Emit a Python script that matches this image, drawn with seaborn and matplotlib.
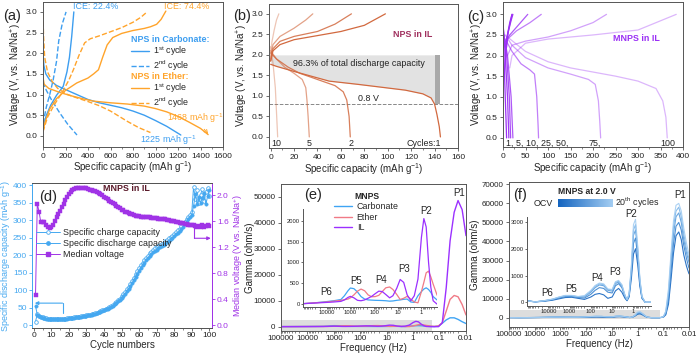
import numpy as np
import pandas as pd
import matplotlib
matplotlib.use("Agg")
import matplotlib.pyplot as plt
import seaborn as sns
from matplotlib.lines import Line2D
from matplotlib.ticker import MultipleLocator, FormatStrFormatter
from matplotlib.colors import LinearSegmentedColormap

# ---------------- data: panel (a) ----------------
A_CARB1_DIS_CAP = [0, 8, 25, 60, 120, 200, 300, 400, 500, 600, 700, 800, 900, 1000, 1100, 1225]
A_CARB1_DIS_V = [2.05, 1.7, 1.5, 1.35, 1.22, 1.12, 1.0, 0.88, 0.8, 0.74, 0.68, 0.6, 0.5, 0.37, 0.23, 0.02]
A_CARB1_CHG_CAP = [0, 30, 70, 120, 180, 213, 235, 255, 274]
A_CARB1_CHG_V = [0.22, 0.5, 0.75, 0.98, 1.2, 1.55, 1.9, 2.4, 3.0]
A_CARB2_DIS_CAP = [0, 30, 80, 150, 220, 302]
A_CARB2_DIS_V = [1.3, 1.1, 0.85, 0.55, 0.28, 0.02]
A_CARB2_CHG_CAP = [0, 30, 60, 90, 120, 140, 170, 205]
A_CARB2_CHG_V = [0.3, 0.7, 1.0, 1.35, 1.8, 2.3, 2.7, 3.0]
A_ETH1_DIS_CAP = [0, 10, 50, 150, 250, 350, 450, 600, 750, 900, 1000, 1100, 1200, 1300, 1400, 1468]
A_ETH1_DIS_V = [1.42, 1.25, 1.15, 1.05, 0.97, 0.9, 0.84, 0.8, 0.77, 0.72, 0.66, 0.58, 0.47, 0.33, 0.18, 0.03]
A_ETH1_CHG_CAP = [0, 20, 60, 120, 200, 300, 400, 450, 493, 530, 570, 620, 700, 800, 900, 955, 1010, 1050, 1092]
A_ETH1_CHG_V = [0.1, 0.35, 0.65, 0.9, 1.1, 1.28, 1.4, 1.5, 1.6, 1.9, 2.2, 2.38, 2.48, 2.55, 2.6, 2.64, 2.7, 2.82, 3.02]
A_ETH2_DIS_CAP = [0, 5, 15, 40, 80, 130, 200, 300, 400, 500, 600, 660, 750, 850, 955]
A_ETH2_DIS_V = [2.95, 2.4, 1.9, 1.55, 1.32, 1.15, 1.02, 0.92, 0.83, 0.73, 0.6, 0.5, 0.35, 0.2, 0.08]
A_ETH2_CHG_CAP = [0, 40, 100, 170, 230, 270, 320, 370, 420, 500, 600, 700, 800, 870, 925]
A_ETH2_CHG_V = [0.1, 0.45, 0.75, 1.05, 1.35, 1.6, 1.95, 2.25, 2.35, 2.42, 2.52, 2.62, 2.75, 2.87, 3.0]

# ---------------- data: panel (b) ----------------
B_CYCLES = [1, 2, 5, 10]
B_DIS_CAP = {
    1: [0, 5, 22, 50, 75, 95, 115, 130, 137, 140, 142, 144, 145],
    2: [0, 5, 15, 25, 35, 45, 55, 62, 65, 67, 68],
    5: [0, 5, 12, 20, 27, 30, 31, 32, 33],
    10: [0, 2, 4, 5, 6],
}
B_DIS_V = {
    1: [1.77, 1.72, 1.58, 1.36, 1.28, 1.21, 1.14, 1.05, 0.95, 0.8, 0.55, 0.25, 0.0],
    2: [2.05, 1.9, 1.7, 1.55, 1.45, 1.35, 1.25, 1.1, 0.9, 0.5, 0.0],
    5: [2.1, 1.9, 1.7, 1.55, 1.4, 1.2, 0.9, 0.5, 0.0],
    10: [2.2, 1.8, 1.2, 0.6, 0.0],
}
B_CHG_CAP = {
    1: [0, 2, 8, 20, 40, 60, 80, 98],
    2: [0, 2, 8, 20, 40, 55, 69],
    5: [0, 2, 8, 20, 30, 36],
    10: [0, 1, 3, 5, 7],
}
B_CHG_V = {
    1: [1.85, 2.1, 2.25, 2.37, 2.47, 2.57, 2.72, 3.0],
    2: [1.85, 2.15, 2.33, 2.45, 2.57, 2.75, 3.0],
    5: [1.9, 2.25, 2.45, 2.65, 2.85, 3.0],
    10: [1.95, 2.3, 2.6, 2.85, 3.0],
}
B_CUTOFF_V = 0.8
B_SHADE_TOP_V = 2.0
B_CAP_AT_CUTOFF = 140
B_CAP_TOTAL = 145

# ---------------- data: panel (c) ----------------
C_CYCLES = [1, 5, 10, 25, 50, 75, 100]
C_DIS_CAP = {
    1: [0, 2, 5, 8], 5: [0, 5, 10, 13], 10: [0, 8, 14, 17], 25: [2, 10, 18, 22],
    50: [5, 20, 40, 60, 70, 75, 78, 79],
    75: [5, 20, 50, 100, 150, 190, 205, 212, 215, 217],
    100: [10, 50, 100, 150, 200, 250, 300, 340, 355, 362, 365],
}
C_DIS_V = {
    1: [2.9, 2.0, 1.0, 0.0], 5: [2.8, 2.0, 1.0, 0.0], 10: [2.7, 2.0, 1.0, 0.0], 25: [2.5, 2.0, 1.0, 0.0],
    50: [2.4, 2.1, 1.8, 1.65, 1.55, 1.0, 0.3, 0.0],
    75: [2.5, 2.25, 1.95, 1.7, 1.55, 1.42, 1.3, 0.9, 0.4, 0.0],
    100: [2.45, 2.1, 1.85, 1.7, 1.6, 1.5, 1.38, 1.2, 0.9, 0.5, 0.0],
}
C_CHG_CAP = {
    1: [3, 8, 15, 20], 5: [5, 10, 18, 22], 10: [8, 12, 20], 25: [3, 15, 35, 55],
    50: [5, 10, 30, 60, 85],
    75: [10, 20, 50, 100, 150, 200, 230],
    100: [15, 20, 50, 100, 200, 300, 385],
}
C_CHG_V = {
    1: [1.5, 2.4, 2.8, 3.0], 5: [2.0, 2.5, 2.85, 3.0], 10: [2.2, 2.6, 3.0], 25: [2.3, 2.5, 2.75, 3.0],
    50: [2.2, 2.4, 2.6, 2.8, 3.0],
    75: [2.0, 2.25, 2.35, 2.45, 2.6, 2.8, 3.0],
    100: [1.7, 2.0, 2.3, 2.4, 2.5, 2.62, 3.0],
}

# ---------------- data: panel (d) ----------------
D_CYCLES = list(range(1, 101))
D_CHARGE = [10, 32, 27, 24, 22, 21, 20, 19, 19, 18,
            18, 18, 18, 18, 18, 19, 19, 19, 20, 20,
            21, 21, 22, 23, 23, 24, 25, 26, 27, 28,
            29, 30, 31, 33, 34, 36, 38, 40, 42, 44,
            46, 49, 52, 55, 58, 62, 66, 71, 76, 82,
            88, 95, 102, 110, 118, 127, 136, 145, 154, 163,
            171, 179, 186, 193, 199, 205, 210, 215, 219, 223,
            226, 229, 232, 236, 240, 244, 248, 252, 256, 261,
            266, 271, 276, 282, 288, 295, 302, 309, 316, 324,
            395, 360, 385, 350, 372, 390, 355, 380, 392, 370]
D_DISCHARGE = [55, 30, 26, 23, 21, 20, 19, 18, 18, 18,
               17, 17, 17, 17, 18, 18, 18, 19, 19, 20,
               20, 21, 21, 22, 23, 23, 24, 25, 26, 27,
               28, 29, 30, 32, 33, 35, 37, 39, 41, 43,
               45, 47, 50, 53, 56, 60, 64, 68, 73, 78,
               84, 90, 97, 104, 112, 120, 129, 138, 147, 156,
               164, 172, 179, 186, 192, 198, 203, 208, 212, 216,
               219, 222, 225, 229, 233, 237, 241, 245, 249, 254,
               259, 264, 269, 275, 281, 288, 295, 302, 309, 316,
               340, 375, 345, 365, 350, 362, 378, 345, 368, 385]
D_MEDIAN_V = [0.47, 1.87, 1.75, 1.59, 1.59, 1.59, 1.55, 1.51, 1.50, 1.52,
              1.55, 1.60, 1.66, 1.72, 1.76, 1.82, 1.87, 1.93, 1.98, 2.02,
              2.05, 2.08, 2.10, 2.11, 2.12, 2.12, 2.12, 2.12, 2.11, 2.11,
              2.10, 2.09, 2.08, 2.07, 2.06, 2.05, 2.03, 2.02, 2.00, 1.98,
              1.96, 1.94, 1.92, 1.90, 1.88, 1.86, 1.84, 1.82, 1.80, 1.78,
              1.77, 1.75, 1.74, 1.73, 1.72, 1.71, 1.70, 1.69, 1.68, 1.68,
              1.67, 1.67, 1.66, 1.66, 1.66, 1.66, 1.65, 1.65, 1.65, 1.65,
              1.64, 1.64, 1.64, 1.63, 1.63, 1.62, 1.62, 1.61, 1.60, 1.60,
              1.59, 1.59, 1.58, 1.58, 1.57, 1.56, 1.56, 1.55, 1.55, 1.54,
              1.54, 1.53, 1.52, 1.53, 1.52, 1.54, 1.52, 1.53, 1.54, 1.53]

# ---------------- data: panel (e) ----------------
E_FREQ = [100000, 31600, 10000, 5000, 2500, 1780, 1260, 1000, 710, 500,
          355, 250, 178, 126, 89, 63, 45, 32, 22, 16,
          11, 7.9, 5.6, 4.0, 2.8, 2.0, 1.4, 1.0, 0.79, 0.63,
          0.5, 0.4, 0.32, 0.22, 0.16, 0.11, 0.079, 0.056, 0.04, 0.028,
          0.02, 0.014, 0.01]
E_CARBONATE = [10, 30, 60, 80, 110, 200, 320, 385, 370, 290,
               180, 120, 100, 95, 90, 88, 85, 80, 70, 75,
               90, 100, 115, 120, 50, 40, 200, 300, 360, 390,
               350, 280, 180, 100, 40, 200, 1300, 2600, 3400, 3400,
               2800, 1900, 1200]
E_ETHER = [10, 30, 50, 70, 90, 105, 120, 150, 220, 310,
           360, 320, 220, 175, 180, 210, 300, 390, 410, 350,
           230, 110, 140, 185, 120, 50, 30, 300, 520, 750,
           790, 650, 480, 220, 100, 300, 1500, 6000, 10500, 12000,
           11500, 8500, 4500]
E_IL = [10, 25, 40, 50, 65, 100, 160, 185, 150, 90,
        80, 100, 140, 185, 250, 310, 300, 230, 150, 200,
        380, 590, 520, 220, 80, 200, 600, 1600, 2050, 1850,
        1000, 400, 80, 0, 0, 0, 1500, 15000, 33000, 44000,
        48500, 45000, 35000]
E_SERIES = ['Carbonate', 'Ether', 'IL']
E_ZOOM_X = (100000, 0.2)
E_ZOOM_Y = (-1700, 2500)

# ---------------- data: panel (f) ----------------
F_FREQ = [100000, 40000, 16000, 6300, 3200, 1600, 800, 400, 200, 100,
          63, 40, 25, 16, 10, 7, 5, 3.5, 2.5, 2.0,
          1.6, 1.25, 1.0, 0.8, 0.63, 0.5, 0.4, 0.28, 0.2, 0.14,
          0.1, 0.08, 0.063, 0.05, 0.04, 0.032, 0.025, 0.02, 0.016, 0.0125,
          0.01]
F_LABELS = ['OCV', '5', '10', '15', '20']
F_GAMMA = {
    'OCV': [60, 20, 40, 80, 130, 180, 190, 150, 110, 200, 300, 330, 280, 150, 200, 430, 520, 380, 150, 60,
            200, 900, 1800, 2000, 1400, 600, 150, 0, 0, 0, 200, 1500, 7000, 20000, 34000, 43000, 45000, 41000,
            33000, 27000, 23000],
    '5': [50, 20, 50, 100, 160, 210, 220, 180, 160, 300, 450, 550, 520, 380, 350, 620, 700, 550, 220, 80,
          250, 1100, 2200, 2400, 1700, 700, 180, 0, 0, 0, 250, 2000, 9000, 24000, 39000, 48000, 50000, 46000,
          38000, 31000, 26000],
    '10': [50, 20, 60, 110, 180, 240, 240, 200, 200, 380, 550, 650, 620, 450, 420, 700, 760, 600, 240, 90,
           280, 1200, 2500, 2700, 1900, 800, 200, 0, 0, 0, 300, 2500, 11000, 28000, 44000, 53000, 55000, 50000,
           41000, 34000, 29000],
    '15': [50, 20, 60, 120, 190, 250, 250, 210, 230, 420, 600, 690, 660, 480, 460, 740, 790, 640, 260, 100,
           300, 1300, 2700, 2900, 2000, 850, 210, 0, 0, 0, 350, 3000, 13000, 31000, 48000, 56000, 58000, 53000,
           44000, 36000, 31000],
    '20': [50, 20, 60, 120, 200, 260, 260, 220, 250, 450, 630, 720, 690, 500, 480, 770, 820, 660, 270, 100,
           320, 1400, 2900, 3100, 2100, 900, 220, 0, 0, 0, 400, 3500, 15000, 34000, 51000, 59000, 60000, 56000,
           47000, 39000, 33000],
}
F_ZOOM_X = (100000, 0.13)
F_ZOOM_Y = (-500, 3800)

LOG_TICKS = [100000, 10000, 1000, 100, 10, 1, 0.1, 0.01]
LOG_TICK_LABELS = ['100000', '10000', '1000', '100', '10', '1', '0.1', '0.01']
INSET_TICKS = [10000, 1000, 100, 10, 1]
INSET_TICK_LABELS = ['10000', '1000', '100', '10', '1']

# ---------------- styling ----------------
sns.set_style('ticks')
plt.rcParams['font.family'] = ['Liberation Sans', 'DejaVu Sans']
plt.rcParams['mathtext.default'] = 'regular'
plt.rcParams['axes.linewidth'] = 0.7

BLUE = '#3d9ef0'
ORANGE = '#ffa42b'
BROWN = '#d2693f'
PURPLE = '#9b30f5'
D_BLUE = '#45a8f0'
D_PURPLE = '#a033e6'
E_COLORS = {'Carbonate': '#3fa4f4', 'Ether': '#f07a86', 'IL': '#9b30ff'}
F_COLORS = ['#1565c0', '#3a84d0', '#5a9ddc', '#7db5e8', '#a3cdf2']
SPINE = '#555555'
TICK_FS = 6.0
LAB_FS = 7.0
TXT_FS = 6.4

fig = plt.figure(figsize=(6.96, 3.54), dpi=100)


def rect(l, t, r, b):
    return [l / 696, 1 - b / 354, (r - l) / 696, (b - t) / 354]


def fxy(px, py):
    return px / 696, 1 - py / 354


def style(ax, fs=TICK_FS):
    for s in ax.spines.values():
        s.set_color(SPINE)
        s.set_linewidth(0.7)
    ax.tick_params(axis='both', which='major', labelsize=fs, length=2.5, width=0.6, pad=1.5,
                   color=SPINE, labelcolor='#222222', direction='out')
    ax.tick_params(axis='both', which='minor', length=1.5, width=0.5, color=SPINE)


def line(ax, x, y, color, ls='-', lw=1.0, alpha=1.0, **kw):
    sns.lineplot(x=list(x), y=list(y), ax=ax, sort=False, estimator=None, color=color, linestyle=ls,
                 linewidth=lw, alpha=alpha, **kw)


def labels(ax, xl, yl, xy_coord, yy_coord, fs=LAB_FS, ycolor='#222222'):
    ax.set_xlabel(xl, fontsize=fs)
    ax.set_ylabel(yl, fontsize=fs, color=ycolor)
    ax.xaxis.set_label_coords(0.5, xy_coord)
    ax.yaxis.set_label_coords(yy_coord, 0.5)


# ================= (a) =================
axA = fig.add_axes(rect(43, 2, 223, 147))
line(axA, A_CARB1_DIS_CAP, A_CARB1_DIS_V, BLUE)
line(axA, A_CARB1_CHG_CAP, A_CARB1_CHG_V, BLUE)
line(axA, A_CARB2_DIS_CAP, A_CARB2_DIS_V, BLUE, '--')
line(axA, A_CARB2_CHG_CAP, A_CARB2_CHG_V, BLUE, '--')
line(axA, A_ETH1_DIS_CAP, A_ETH1_DIS_V, ORANGE)
line(axA, A_ETH1_CHG_CAP, A_ETH1_CHG_V, ORANGE)
line(axA, A_ETH2_DIS_CAP, A_ETH2_DIS_V, ORANGE, '--')
line(axA, A_ETH2_CHG_CAP, A_ETH2_CHG_V, ORANGE, '--')
axA.set_xlim(0, 1600)
axA.set_ylim(-0.27, 3.24)
axA.xaxis.set_major_locator(MultipleLocator(200))
axA.xaxis.set_minor_locator(MultipleLocator(100))
axA.yaxis.set_major_locator(MultipleLocator(0.5))
axA.yaxis.set_major_formatter(FormatStrFormatter('%.1f'))
style(axA)
labels(axA, 'Specific capacity (mAh g$^{-1}$)', 'Voltage (V, vs. Na/Na$^{+}$)', -0.085, -0.105)
axA.text(465, 3.14, 'ICE: 22.4%', color=BLUE, fontsize=TXT_FS, ha='center', va='center')
axA.text(1280, 3.14, 'ICE: 74.4%', color=ORANGE, fontsize=TXT_FS, ha='center', va='center')
axA.text(1116, -0.1, '1225 mAh g$^{-1}$', color=BLUE, fontsize=TXT_FS, ha='center', va='center')
axA.annotate('1468 mAh g$^{-1}$', xy=(1468, 0.04), xytext=(1354, 0.43), color=ORANGE, fontsize=TXT_FS,
             ha='center', va='center',
             arrowprops=dict(arrowstyle='->', color=ORANGE, lw=0.7, shrinkA=1, shrinkB=0))
legs = []
for title, col, ytop in [('NPS in Carbonate:', BLUE, 0.77), ('NPS in Ether:', ORANGE, 0.515)]:
    hs = [Line2D([], [], color=col, lw=1.0, ls='-'), Line2D([], [], color=col, lw=1.0, ls='--')]
    lg = axA.legend(hs, ['1$^{st}$ cycle', '2$^{nd}$ cycle'], title=title, loc='upper left',
                    bbox_to_anchor=(0.49, ytop), frameon=False, fontsize=TXT_FS, title_fontsize=TXT_FS,
                    alignment='left', handlelength=2.0, handletextpad=0.5, borderpad=0, borderaxespad=0,
                    labelspacing=0.05)
    lg.get_title().set_color(col)
    lg.get_title().set_fontweight('bold')
    legs.append(lg)
axA.add_artist(legs[0])

# ================= (b) =================
axB = fig.add_axes(rect(269, 4, 458, 148))
c1x = np.array(B_DIS_CAP[1])
c1y = np.array(B_DIS_V[1])
m = c1x <= B_CAP_AT_CUTOFF
axB.fill_between(c1x[m], c1y[m], B_SHADE_TOP_V, color='#e2e2e2', lw=0, zorder=0)
axB.fill_between([B_CAP_AT_CUTOFF, B_CAP_TOTAL], B_CUTOFF_V, B_SHADE_TOP_V, color='#a9a9a9', lw=0, zorder=0)
axB.axhline(B_CUTOFF_V, color='#888888', ls='--', lw=0.7, zorder=1)
b_alpha = {1: 1.0, 2: 0.85, 5: 0.62, 10: 0.38}
for c in B_CYCLES:
    line(axB, B_DIS_CAP[c], B_DIS_V[c], BROWN, alpha=b_alpha[c], lw=0.9)
    line(axB, B_CHG_CAP[c], B_CHG_V[c], BROWN, alpha=b_alpha[c], lw=0.9)
axB.set_xlim(-1.4, 160)
axB.set_ylim(-0.27, 3.24)
axB.xaxis.set_major_locator(MultipleLocator(20))
axB.xaxis.set_minor_locator(MultipleLocator(10))
axB.yaxis.set_major_locator(MultipleLocator(0.5))
axB.yaxis.set_major_formatter(FormatStrFormatter('%.1f'))
style(axB)
labels(axB, 'Specific capacity (mAh g$^{-1}$)', 'Voltage (V, vs. Na/Na$^{+}$)', -0.09, -0.103)
axB.text(137.7, 2.49, 'NPS in IL', color='#a0305e', fontsize=TXT_FS, fontweight='bold', ha='right', va='center')
axB.text(75.8, 1.80, '96.3% of total discharge capacity', fontsize=TXT_FS, ha='center', va='center', color='#222')
axB.text(83.5, 0.94, '0.8 V', fontsize=TXT_FS, ha='center', va='center', color='#222')
for txt, xx in [('10', 5), ('5', 32.6), ('2', 68.3), ('Cycles:1', 130.6)]:
    axB.text(xx, -0.15, txt, fontsize=TXT_FS, ha='center', va='center', color='#222')

# ================= (c) =================
axC = fig.add_axes(rect(503, 2, 683, 147))
c_alpha = {1: 1.0, 5: 0.95, 10: 0.85, 25: 0.8, 50: 0.62, 75: 0.45, 100: 0.35}
for c in C_CYCLES:
    line(axC, C_DIS_CAP[c], C_DIS_V[c], PURPLE, alpha=c_alpha[c], lw=0.9)
    line(axC, C_CHG_CAP[c], C_CHG_V[c], PURPLE, alpha=c_alpha[c], lw=0.9)
axC.set_xlim(0, 400)
axC.set_ylim(-0.22, 3.3)
axC.xaxis.set_major_locator(MultipleLocator(50))
axC.xaxis.set_minor_locator(MultipleLocator(25))
axC.yaxis.set_major_locator(MultipleLocator(0.5))
axC.yaxis.set_major_formatter(FormatStrFormatter('%.1f'))
style(axC)
labels(axC, 'Specific capacity (mAh g$^{-1}$)', 'Voltage (V, vs. Na/Na$^{+}$)', -0.09, -0.1)
axC.text(348, 2.41, 'MNPS in IL', color=PURPLE, fontsize=TXT_FS, fontweight='bold', ha='right', va='center')
axC.text(7, -0.14, '1, 5, 10, 25, 50,', fontsize=TXT_FS, ha='left', va='center', color='#222')
axC.text(204, -0.14, '75,', fontsize=TXT_FS, ha='center', va='center', color='#222')
axC.text(367, -0.14, '100', fontsize=TXT_FS, ha='center', va='center', color='#222')

# ================= (d) =================
axD = fig.add_axes(rect(32, 183, 212, 328))
axD2 = axD.twinx()
line(axD, D_CYCLES, D_CHARGE, D_BLUE, lw=0.7, marker='o', markersize=2.6, markerfacecolor='white',
     markeredgecolor=D_BLUE, markeredgewidth=0.6)
line(axD, D_CYCLES, D_DISCHARGE, D_BLUE, lw=0.7, marker='o', markersize=2.4, markerfacecolor=D_BLUE,
     markeredgecolor=D_BLUE, markeredgewidth=0.4)
line(axD2, D_CYCLES, D_MEDIAN_V, D_PURPLE, lw=0.7, marker='s', markersize=2.4, markerfacecolor=D_PURPLE,
     markeredgecolor=D_PURPLE, markeredgewidth=0.3)
axD.set_xlim(-1, 101.5)
axD.set_ylim(-8, 406)
axD2.set_ylim(-0.04, 2.19)
axD.xaxis.set_major_locator(MultipleLocator(10))
axD.xaxis.set_minor_locator(MultipleLocator(5))
axD.yaxis.set_major_locator(MultipleLocator(50))
axD2.yaxis.set_major_locator(MultipleLocator(0.4))
axD2.yaxis.set_major_formatter(FormatStrFormatter('%.1f'))
style(axD)
style(axD2)
axD.tick_params(axis='x', pad=1, length=2)
axD.tick_params(axis='y', labelcolor=D_BLUE, color=D_BLUE, pad=1)
axD2.tick_params(axis='y', labelcolor=D_PURPLE, color=D_PURPLE, pad=1)
for a in (axD, axD2):
    a.spines['left'].set_color(D_BLUE)
    a.spines['right'].set_color(D_PURPLE)
labels(axD, 'Cycle numbers', 'Specific discharge capacity (mAh g$^{-1}$)', -0.085, -0.105, fs=6.5,
       ycolor=D_BLUE)
axD.xaxis.label.set_fontsize(LAB_FS)
axD2.set_ylabel('Median voltage (V vs. Na/Na$^{+}$)', fontsize=6.5, color=D_PURPLE)
axD2.yaxis.set_label_coords(1.105, 0.5)
axD.text(53, 390, 'MNPS in IL', color='#5a1a2a', fontsize=TXT_FS, fontweight='bold', ha='center', va='center')
axD.annotate('', xy=(0.6, 63), xytext=(16.4, 63),
             arrowprops=dict(arrowstyle='-|>', color=D_BLUE, lw=0.8, mutation_scale=5, shrinkA=0, shrinkB=0))
axD.plot([16.4, 16.4], [63, 35], color=D_BLUE, lw=0.8)
axD2.plot([91.5, 91.5], [1.52, 1.34], color=D_PURPLE, lw=0.8)
axD2.annotate('', xy=(100.8, 1.34), xytext=(91.5, 1.34),
              arrowprops=dict(arrowstyle='-|>', color=D_PURPLE, lw=0.8, mutation_scale=5, shrinkA=0, shrinkB=0))
hD = [Line2D([], [], color=D_BLUE, lw=0.7, marker='o', markersize=2.6, mfc='white', mec=D_BLUE, mew=0.6),
      Line2D([], [], color=D_BLUE, lw=0.7, marker='o', markersize=2.4, mfc=D_BLUE, mec=D_BLUE),
      Line2D([], [], color=D_PURPLE, lw=0.7, marker='s', markersize=2.4, mfc=D_PURPLE, mec=D_PURPLE)]
axD2.legend(hD, ['Specific charge capacity', 'Specific discharge capacity', 'Median voltage'],
            loc='upper left', bbox_to_anchor=(0.0, 0.72), frameon=False, fontsize=TXT_FS,
            handlelength=2.6, handletextpad=0.4, borderpad=0, labelspacing=0.25)

# ================= (e) =================
dfE = pd.DataFrame({'freq': E_FREQ, 'Carbonate': E_CARBONATE, 'Ether': E_ETHER, 'IL': E_IL})
axE = fig.add_axes(rect(281, 184, 466, 331))
axE.set_xscale('log')
axE.fill_between(list(E_ZOOM_X), E_ZOOM_Y[0], E_ZOOM_Y[1], color='#dddddd', lw=0, zorder=0)
for name in E_SERIES:
    line(axE, dfE['freq'], dfE[name], E_COLORS[name], lw=1.0)
axE.set_xlim(1e5, 0.01)
axE.set_ylim(-1670, 54870)
axE.set_xticks(LOG_TICKS, LOG_TICK_LABELS)
axE.yaxis.set_major_locator(MultipleLocator(10000))
style(axE, fs=5.8)
axE.tick_params(axis='x', which='major', pad=1, length=2)
labels(axE, 'Frequency (Hz)', 'Gamma (ohm/s)', -0.082, -0.143)
axE.text(0.019, 51500, 'P1', fontsize=7, ha='center', va='center')
hE = [Line2D([], [], color=E_COLORS[n], lw=1.0) for n in E_SERIES]
lgE = axE.legend(hE, E_SERIES, title='MNPS', loc='upper left',
                 bbox_to_anchor=(0.265, 0.975), frameon=False, fontsize=TXT_FS, title_fontsize=6.2,
                 handlelength=2.0, handletextpad=0.5, borderpad=0, labelspacing=0.15)
lgE.get_title().set_fontweight('bold')
lgE.set_zorder(10)

axEi = fig.add_axes(rect(303, 209, 437, 307))
axEi.set_xscale('log')
axEi.patch.set_alpha(0)
for name in E_SERIES:
    line(axEi, dfE['freq'], dfE[name], E_COLORS[name], lw=0.9)
axEi.set_xlim(1e5, 0.22)
axEi.set_ylim(-70, 2280)
axEi.set_xticks(INSET_TICKS, INSET_TICK_LABELS)
axEi.yaxis.set_major_locator(MultipleLocator(500))
axEi.set_xlabel('')
axEi.set_ylabel('')
style(axEi, fs=4.2)
axEi.tick_params(length=1.5, pad=1)
axEi.spines['top'].set_visible(False)
axEi.spines['right'].set_visible(False)
for txt, fx, gy in [('P2', 0.66, 2224), ('P3', 5.2, 840), ('P4', 48, 584), ('P5', 575, 544), ('P6', 11000, 280)]:
    axEi.text(fx, gy, txt, fontsize=7, ha='center', va='center', clip_on=False)

# ================= (f) =================
dfF = pd.DataFrame({'freq': F_FREQ, **{k: F_GAMMA[k] for k in F_LABELS}})
axF = fig.add_axes(rect(509, 182, 689, 327))
axF.set_xscale('log')
axF.fill_between(list(F_ZOOM_X), F_ZOOM_Y[0], F_ZOOM_Y[1], color='#dddddd', lw=0, zorder=0)
for k, col in zip(F_LABELS, F_COLORS):
    line(axF, dfF['freq'], dfF[k], col, lw=0.8, alpha=0.9)
axF.set_xlim(1e5, 0.01)
axF.set_ylim(-4900, 71230)
axF.set_xticks(LOG_TICKS, LOG_TICK_LABELS)
axF.yaxis.set_major_locator(MultipleLocator(10000))
style(axF, fs=5.8)
axF.tick_params(axis='x', which='major', pad=1, length=2)
labels(axF, 'Frequency (Hz)', 'Gamma (ohm/s)', -0.085, -0.16)
axF.text(0.022, 64200, 'P1', fontsize=7, ha='center', va='center')
fig.text(*fxy(587, 191.5), 'MNPS at 2.0 V', fontsize=6.2, fontweight='bold', ha='center', va='center')
fig.text(*fxy(543, 203), 'OCV', fontsize=TXT_FS, ha='center', va='center')
fig.text(*fxy(615, 203), '20$^{th}$ cycles', fontsize=TXT_FS, ha='left', va='center')
F_CMAP = LinearSegmentedColormap.from_list('fblues', [F_COLORS[0], F_COLORS[-1]])
cax = fig.add_axes(rect(558, 199, 613, 207))
cax.imshow(np.linspace(0, 1, 64)[None, :], aspect='auto', cmap=F_CMAP)
cax.axis('off')

axFi = fig.add_axes(rect(527, 217, 651, 306))
axFi.set_xscale('log')
axFi.patch.set_alpha(0)
for k, col in zip(F_LABELS, F_COLORS):
    line(axFi, dfF['freq'], dfF[k], col, lw=0.8, alpha=0.9)
axFi.set_xlim(1e5, 0.15)
axFi.set_ylim(-136, 3186)
axFi.set_xticks(INSET_TICKS, INSET_TICK_LABELS)
axFi.yaxis.set_major_locator(MultipleLocator(1000))
axFi.set_xlabel('')
axFi.set_ylabel('')
style(axFi, fs=4.2)
axFi.tick_params(length=1.5, pad=1)
axFi.spines['top'].set_visible(False)
axFi.spines['right'].set_visible(False)
for txt, fx, gy in [('P2', 1.3, 3286), ('P3', 7.6, 1116), ('P4', 49, 905), ('P5', 890, 496), ('P6', 10700, 335)]:
    axFi.text(fx, gy, txt, fontsize=7, ha='center', va='center', clip_on=False)

# ---- panel labels ----
for lab, px, py in [('(a)', 12, 16), ('(b)', 242, 16), ('(c)', 476, 17), ('(d)', 48, 197), ('(e)', 313, 195),
                    ('(f)', 520, 195)]:
    fig.text(*fxy(px, py), lab, fontsize=10.5, ha='center', va='center')

fig.savefig('out.png', dpi=100)
